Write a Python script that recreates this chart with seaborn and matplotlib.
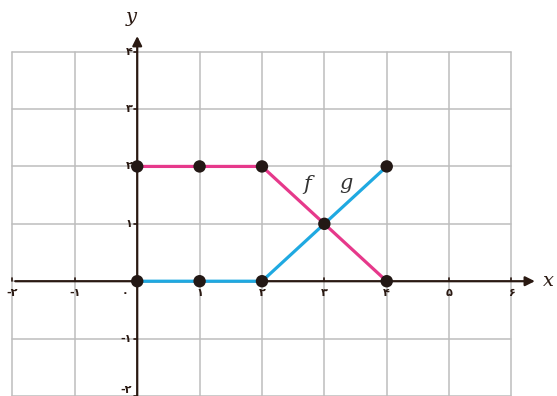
import numpy as np
import pandas as pd
import matplotlib
matplotlib.use("Agg")
import matplotlib.pyplot as plt
import seaborn as sns

sns.set_style("white")
plt.rcParams['font.family'] = ['DejaVu Sans']

# ---------------- DATA ---------------- #
x_vals = [0, 1, 2, 3, 4]
f_vals = [2, 2, 2, 1, 0]
g_vals = [0, 0, 0, 1, 2]
dot_x = [0, 1, 2, 3, 4, 0, 1, 2, 4]
dot_y = [2, 2, 2, 1, 2, 0, 0, 0, 0]
x_ticks = [-2, -1, 1, 2, 3, 4, 5, 6]
x_labels = ["-۲", "-۱", "۱", "۲", "۳", "۴", "۵", "۶"]
y_ticks = [-2, -1, 1, 2, 3, 4]
y_labels = ["-۲", "-۱", "۱", "۲", "۳", "۴"]

PINK = "#e6398b"
BLUE = "#1fa9e1"
DARK = "#2a1912"
GRID = "#bdbdbd"

df = pd.DataFrame({"x": x_vals * 2,
                   "y": f_vals + g_vals,
                   "fn": ["f"] * 5 + ["g"] * 5})

fig = plt.figure(figsize=(5.57, 3.96), dpi=100)
ax = fig.add_axes([0, 0, 1, 1])
ax.set_xlim(-2.2, 6.73)
ax.set_ylim(-2.0, 4.9)

# grid, only inside the box
for gx in range(-2, 7):
    ax.plot([gx, gx], [-2, 4], color=GRID, lw=1.1, zorder=0)
for gy in range(-2, 5):
    ax.plot([-2, 6], [gy, gy], color=GRID, lw=1.1, zorder=0)

# axes with arrows
ax.annotate("", xy=(6.42, 0), xytext=(-2, 0),
            arrowprops=dict(arrowstyle="-|>", color=DARK, lw=1.6, mutation_scale=14))
ax.annotate("", xy=(0, 4.32), xytext=(0, -2.05),
            arrowprops=dict(arrowstyle="-|>", color=DARK, lw=1.6, mutation_scale=14))

# ticks + labels
for t, lab in zip(x_ticks, x_labels):
    ax.plot([t, t], [0, 0.05], color=DARK, lw=1.2)
    ax.text(t, -0.12, lab, ha="center", va="top", fontsize=8,
            fontweight="bold", color=DARK)
ax.text(-0.2, -0.12, "۰", ha="center", va="top", fontsize=8,
        fontweight="bold", color=DARK)
for t, lab in zip(y_ticks, y_labels):
    ax.plot([-0.05, 0], [t, t], color=DARK, lw=1.2)
    yy = max(t, -1.9)
    ax.text(-0.08, yy, lab, ha="right", va="center", fontsize=8,
            fontweight="bold", color=DARK)

ax.text(6.6, 0.0, "x", ha="center", va="center", fontsize=14,
        style="italic", family="DejaVu Serif", color=DARK)
ax.text(-0.1, 4.6, "y", ha="center", va="center", fontsize=14,
        style="italic", family="DejaVu Serif", color=DARK)

sns.lineplot(data=df, x="x", y="y", hue="fn", palette={"f": PINK, "g": BLUE},
             lw=2.3, legend=False, ax=ax, zorder=3)
sns.scatterplot(x=dot_x, y=dot_y, color="#231815", s=80, edgecolor="none",
                ax=ax, zorder=4)

ax.text(2.72, 1.68, "f", ha="center", va="center", fontsize=15,
        style="italic", family="DejaVu Serif", color="#333333")
ax.text(3.35, 1.7, "g", ha="center", va="center", fontsize=15,
        style="italic", family="DejaVu Serif", color="#333333")

ax.set_xlabel("")
ax.set_ylabel("")
ax.set_xticks([])
ax.set_yticks([])
for s in ax.spines.values():
    s.set_visible(False)

fig.savefig("out.png", dpi=100)
